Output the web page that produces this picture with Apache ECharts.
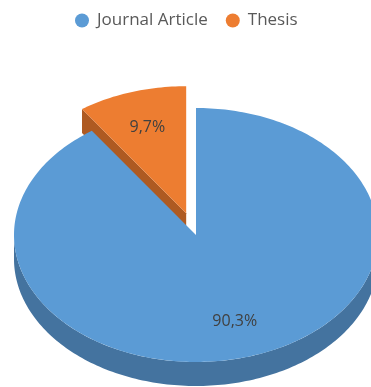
<!DOCTYPE html>
<html>
<head>
<meta charset="utf-8">
<script src="https://cdn.jsdelivr.net/npm/echarts@6/dist/echarts.min.js"></script>
<style>
  html, body { margin: 0; padding: 0; background: #fff; }
  #chart { width: 371px; height: 387px; }
</style>
</head>
<body>
<div id="chart"></div>
<script>
// Publication types and their share of the total (percent)
const categories = ['Journal Article', 'Thesis'];
const shares = [90.3, 9.7];

// Look of each slice: top face colour, side colour, explode fraction
const topColors = ['#5B9BD5', '#ED7D31'];
const sideColors = ['#44739F', '#AE5A22'];
const explode = [0, 0.18];

// Tilted-disc geometry (pixels)
const CX = 196, CY = 235, RX = 182, RY = 127, DEPTH = 24, LABEL_R = 0.71;

const total = shares.reduce((a, b) => a + b, 0);
const startAngles = [];
shares.reduce((acc, v, i) => { startAngles[i] = acc; return acc + v / total * Math.PI * 2; }, 0);

function fmt(v) { return v.toFixed(1).replace('.', ',') + '%'; }

function pt(t, ox, oy, dy) {
  return [CX + ox + RX * Math.sin(t), CY + oy - RY * Math.cos(t) + (dy || 0)];
}
function arc(a0, a1, ox, oy, dy) {
  const n = Math.max(2, Math.ceil(Math.abs(a1 - a0) / 0.02));
  const out = [];
  for (let k = 0; k <= n; k++) out.push(pt(a0 + (a1 - a0) * k / n, ox, oy, dy));
  return out;
}

function makeRender(i) {
  return function () {
    const a0 = startAngles[i];
    const a1 = a0 + shares[i] / total * Math.PI * 2;
    const mid = (a0 + a1) / 2;
    const ox = explode[i] * RX * Math.sin(mid);
    const oy = -explode[i] * RY * Math.cos(mid);
    const c = [CX + ox, CY + oy];
    const cd = [c[0], c[1] + DEPTH];
    const kids = [];
    // radial side faces that turn toward the viewer
    if (Math.sin(a0) < -1e-6) {
      const p = pt(a0, ox, oy), pd = pt(a0, ox, oy, DEPTH);
      kids.push({ type: 'polygon', shape: { points: [c, p, pd, cd] }, style: { fill: sideColors[i] } });
    }
    if (Math.sin(a1) > 1e-6) {
      const p = pt(a1, ox, oy), pd = pt(a1, ox, oy, DEPTH);
      kids.push({ type: 'polygon', shape: { points: [c, p, pd, cd] }, style: { fill: sideColors[i] } });
    }
    // outer wall on the front half of the disc
    const f0 = Math.max(a0, Math.PI / 2), f1 = Math.min(a1, Math.PI * 1.5);
    if (f1 > f0) {
      const pts = arc(f0, f1, ox, oy, 0).concat(arc(f1, f0, ox, oy, DEPTH));
      kids.push({ type: 'polygon', shape: { points: pts }, style: { fill: sideColors[i] } });
    }
    // top face
    kids.push({ type: 'polygon', shape: { points: [c].concat(arc(a0, a1, ox, oy, 0)) }, style: { fill: topColors[i] } });
    // percentage label
    const lx = c[0] + LABEL_R * RX * Math.sin(mid);
    const ly = c[1] - LABEL_R * RY * Math.cos(mid);
    kids.push({
      type: 'text',
      style: {
        x: lx, y: ly, text: fmt(shares[i]), fill: '#404040',
        fontSize: 16, fontFamily: 'Open Sans', align: 'center', verticalAlign: 'middle'
      }
    });
    return { type: 'group', children: kids };
  };
}

const series = categories.map((name, i) => ({
  type: 'custom',
  name: name,
  coordinateSystem: 'none',
  z: i === 0 ? 3 : 2,
  itemStyle: { color: topColors[i] },
  data: [shares[i]],
  renderItem: makeRender(i)
}));

const chart = echarts.init(document.getElementById('chart'));
chart.setOption({
  animation: false,
  legend: {
    data: categories,
    top: 7,
    left: 70,
    icon: 'circle',
    itemWidth: 20,
    itemHeight: 14,
    itemGap: 18,
    textStyle: { color: '#595959', fontSize: 17, fontFamily: 'Open Sans' }
  },
  series: series
});
</script>
</body>
</html>
